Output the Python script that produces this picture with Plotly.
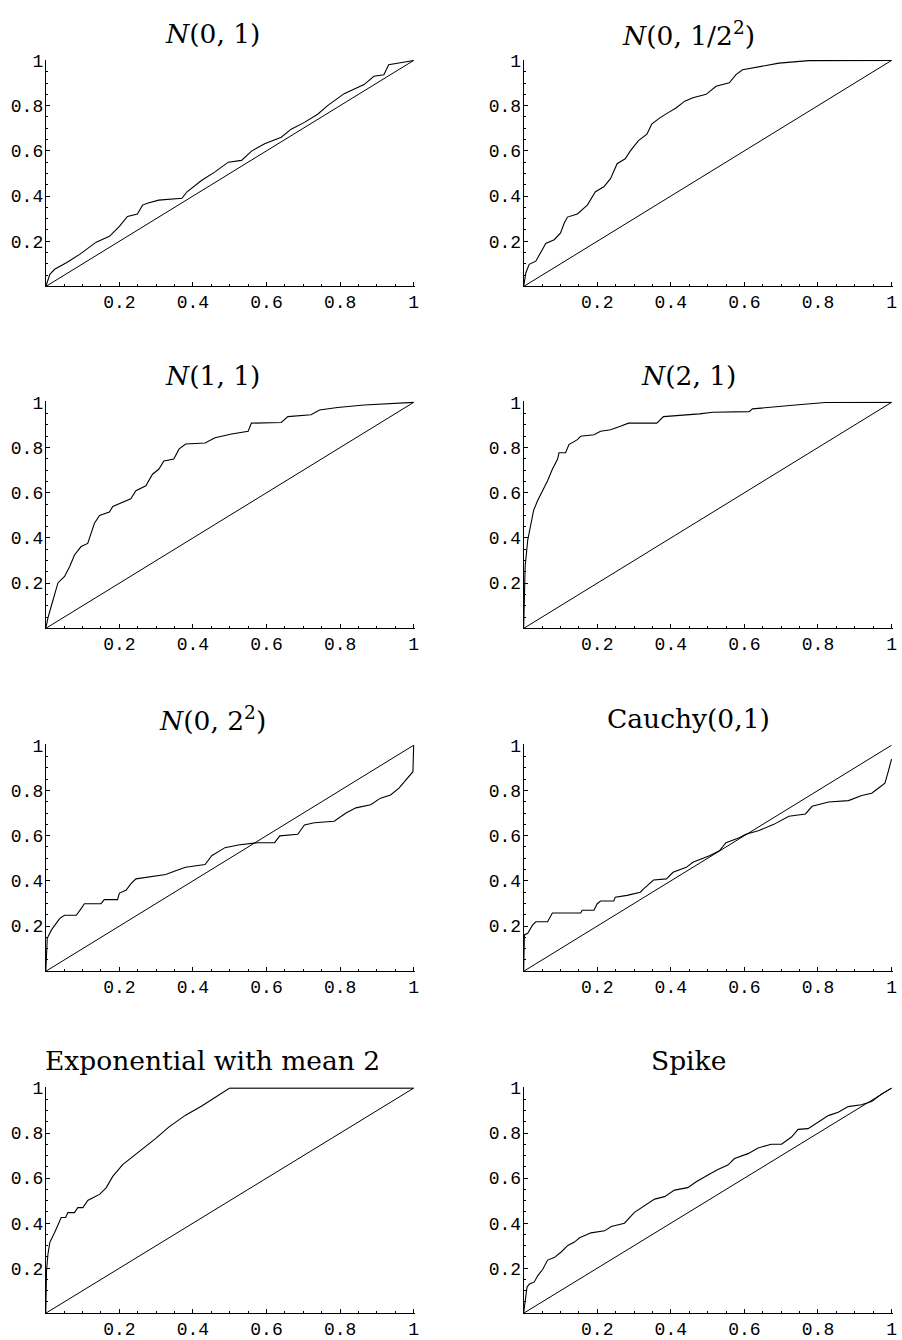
import plotly.graph_objects as go

# ---------------- data ----------------
titles = [
    "<i>N</i>(0, 1)",
    "<i>N</i>(0, 1/2<sup>2</sup>)",
    "<i>N</i>(1, 1)",
    "<i>N</i>(2, 1)",
    "<i>N</i>(0, 2<sup>2</sup>)",
    "Cauchy(0,1)",
    "Exponential with mean 2",
    "Spike",
]

tick_vals = [0.2, 0.4, 0.6, 0.8, 1.0]
tick_text = ["0.2", "0.4", "0.6", "0.8", "1"]

diag_x = [0, 1]
diag_y = [0, 1]

n01_x = [0, 0.011, 0.024, 0.056, 0.092, 0.137, 0.173, 0.2, 0.222, 0.249, 0.263, 0.276,
         0.307, 0.37, 0.384, 0.424, 0.46, 0.496, 0.532, 0.56, 0.595, 0.64, 0.667,
         0.703, 0.739, 0.766, 0.811, 0.847, 0.865, 0.892, 0.919, 0.932, 0.955, 0.982, 1]
n01_y = [0, 0.054, 0.076, 0.105, 0.142, 0.196, 0.222, 0.266, 0.31, 0.321, 0.36, 0.368,
         0.382, 0.39, 0.419, 0.47, 0.507, 0.55, 0.558, 0.6, 0.631, 0.66, 0.696,
         0.726, 0.762, 0.8, 0.853, 0.879, 0.893, 0.93, 0.937, 0.981, 0.988, 0.996, 1]

n0q_x = [0, 0.006, 0.015, 0.033, 0.051, 0.06, 0.083, 0.1, 0.11, 0.119, 0.146, 0.173,
         0.195, 0.218, 0.236, 0.254, 0.276, 0.29, 0.312, 0.335, 0.348, 0.371, 0.393,
         0.415, 0.438, 0.46, 0.496, 0.523, 0.559, 0.577, 0.595, 0.622, 0.658, 0.694,
         0.775, 1]
n0q_y = [0, 0.061, 0.098, 0.112, 0.164, 0.19, 0.207, 0.236, 0.28, 0.307, 0.321, 0.36,
         0.419, 0.441, 0.477, 0.543, 0.565, 0.6, 0.645, 0.674, 0.718, 0.747, 0.769,
         0.791, 0.82, 0.835, 0.85, 0.886, 0.901, 0.937, 0.959, 0.966, 0.978, 0.988,
         0.999, 1]

n11_x = [0, 0.006, 0.015, 0.033, 0.051, 0.065, 0.078, 0.096, 0.114, 0.132, 0.146,
         0.173, 0.182, 0.209, 0.231, 0.245, 0.272, 0.29, 0.307, 0.321, 0.348, 0.362,
         0.38, 0.433, 0.46, 0.505, 0.55, 0.559, 0.64, 0.658, 0.721, 0.744, 0.793,
         0.865, 0.955, 0.964, 1]
n11_y = [0, 0.048, 0.099, 0.201, 0.23, 0.274, 0.325, 0.362, 0.376, 0.464, 0.5,
         0.515, 0.539, 0.558, 0.573, 0.609, 0.631, 0.682, 0.704, 0.741, 0.749, 0.793,
         0.816, 0.82, 0.843, 0.86, 0.872, 0.908, 0.911, 0.937, 0.945, 0.966, 0.977,
         0.988, 0.996, 1.0, 1]

n21_x = [0, 0.004, 0.011, 0.02, 0.027, 0.038, 0.051, 0.065, 0.078, 0.092, 0.096,
         0.114, 0.123, 0.146, 0.155, 0.191, 0.209, 0.236, 0.263, 0.285, 0.362, 0.38,
         0.478, 0.514, 0.613, 0.622, 0.739, 0.82, 1]
n21_y = [0, 0.274, 0.39, 0.464, 0.522, 0.566, 0.609, 0.653, 0.704, 0.748, 0.777,
         0.777, 0.813, 0.835, 0.85, 0.857, 0.872, 0.879, 0.894, 0.908, 0.908, 0.937,
         0.949, 0.956, 0.959, 0.971, 0.988, 0.999, 1]

n04_x = [0, 0.004, 0.015, 0.029, 0.038, 0.051, 0.083, 0.096, 0.105, 0.15, 0.159,
         0.195, 0.2, 0.218, 0.231, 0.245, 0.281, 0.326, 0.353, 0.38, 0.433, 0.451,
         0.487, 0.523, 0.577, 0.622, 0.636, 0.685, 0.703, 0.73, 0.784, 0.816, 0.843,
         0.883, 0.91, 0.937, 0.96, 0.978, 0.991, 0.998, 1]
n04_y = [0, 0.146, 0.182, 0.212, 0.234, 0.248, 0.248, 0.277, 0.299, 0.299, 0.317,
         0.317, 0.346, 0.358, 0.387, 0.409, 0.416, 0.428, 0.445, 0.46, 0.472, 0.511,
         0.547, 0.559, 0.569, 0.569, 0.599, 0.606, 0.647, 0.657, 0.664, 0.7, 0.723,
         0.737, 0.766, 0.78, 0.81, 0.847, 0.869, 0.883, 1]

cauchy_x = [0, 0.002, 0.011, 0.024, 0.033, 0.065, 0.078, 0.155, 0.159, 0.191, 0.2,
            0.209, 0.245, 0.249, 0.281, 0.317, 0.326, 0.353, 0.388, 0.406, 0.442,
            0.46, 0.505, 0.532, 0.55, 0.586, 0.604, 0.64, 0.68, 0.721, 0.766, 0.784,
            0.829, 0.883, 0.919, 0.946, 0.964, 0.982, 0.991, 1]
cauchy_y = [0, 0.161, 0.168, 0.204, 0.219, 0.219, 0.258, 0.258, 0.27, 0.27, 0.299,
            0.311, 0.311, 0.328, 0.336, 0.35, 0.365, 0.404, 0.409, 0.438, 0.46,
            0.482, 0.511, 0.533, 0.569, 0.591, 0.606, 0.623, 0.65, 0.686, 0.696, 0.73,
            0.749, 0.755, 0.778, 0.788, 0.81, 0.832, 0.883, 0.939]

expo_x = [0, 0.002, 0.006, 0.011, 0.024, 0.042, 0.054, 0.06, 0.078, 0.087, 0.101,
          0.114, 0.128, 0.146, 0.164, 0.182, 0.209, 0.254, 0.299, 0.335, 0.38, 0.424,
          0.46, 0.5, 1]
expo_y = [0, 0.191, 0.264, 0.315, 0.359, 0.425, 0.425, 0.447, 0.447, 0.469, 0.469,
          0.501, 0.513, 0.528, 0.557, 0.608, 0.66, 0.718, 0.777, 0.828, 0.88, 0.921,
          0.96, 1.0, 1]

spike_x = [0, 0.009, 0.015, 0.029, 0.038, 0.052, 0.065, 0.083, 0.102, 0.12, 0.138,
           0.152, 0.183, 0.22, 0.238, 0.274, 0.301, 0.328, 0.356, 0.383, 0.41, 0.446,
           0.469, 0.501, 0.528, 0.555, 0.573, 0.61, 0.637, 0.673, 0.701, 0.728, 0.746,
           0.773, 0.8, 0.828, 0.855, 0.882, 0.918, 0.946, 0.973, 1]
spike_y = [0, 0.115, 0.129, 0.139, 0.166, 0.195, 0.236, 0.247, 0.272, 0.301, 0.316,
           0.335, 0.357, 0.366, 0.385, 0.4, 0.448, 0.477, 0.507, 0.518, 0.547, 0.558,
           0.584, 0.614, 0.639, 0.658, 0.687, 0.709, 0.734, 0.751, 0.751, 0.783, 0.817,
           0.82, 0.849, 0.878, 0.893, 0.918, 0.926, 0.941, 0.974, 1]

curves = [
    (n01_x, n01_y), (n0q_x, n0q_y),
    (n11_x, n11_y), (n21_x, n21_y),
    (n04_x, n04_y), (cauchy_x, cauchy_y),
    (expo_x, expo_y), (spike_x, spike_y),
]

# ---------------- layout ----------------
W, H = 902, 1340
col_px = [(46, 417), (526, 897)]
row_px = [(52, 281), (397, 626), (743, 972), (1089, 1317)]
title_cx = [213, 692]
title_cy = [26, 371, 717, 1062]

fig = go.Figure()
axis_font = dict(family="Liberation Mono, Courier New, monospace", size=18, color="black")

for i, (cx, cy) in enumerate(curves):
    r, c = divmod(i, 2)
    k = i + 1
    xa = "x" if k == 1 else f"x{k}"
    ya = "y" if k == 1 else f"y{k}"
    fig.add_trace(go.Scatter(x=diag_x, y=diag_y, mode="lines",
                             line=dict(color="black", width=1),
                             xaxis=xa, yaxis=ya, showlegend=False, hoverinfo="skip"))
    fig.add_trace(go.Scatter(x=cx, y=cy, mode="lines",
                             line=dict(color="black", width=1.1),
                             xaxis=xa, yaxis=ya, showlegend=False))
    x0, x1 = col_px[c]
    y0, y1 = row_px[r]
    common = dict(
        range=[0, 1.004], showgrid=False, zeroline=False,
        showline=True, linecolor="black", linewidth=1,
        ticks="inside", ticklen=4, tickwidth=1, tickcolor="black",
        tickvals=tick_vals, ticktext=tick_text, tickfont=axis_font,
        minor=dict(dtick=0.05, tick0=0, ticks="inside", ticklen=2.5,
                   tickcolor="black", tickwidth=1, showgrid=False),
        fixedrange=True,
    )
    fig.layout[f"xaxis{k if k > 1 else ''}"] = dict(
        domain=[x0 / W, x1 / W], anchor=ya, ticklabelstandoff=-1, **common)
    fig.layout[f"yaxis{k if k > 1 else ''}"] = dict(
        domain=[1 - y1 / H, 1 - y0 / H], anchor=xa, ticklabelstandoff=-2, **common)
    fig.add_annotation(
        text=titles[i], x=title_cx[c] / W, y=1 - title_cy[r] / H,
        xref="paper", yref="paper", xanchor="center", yanchor="middle",
        showarrow=False,
        font=dict(family="DejaVu Serif, Liberation Serif, serif", size=26.5, color="black"),
    )

fig.update_layout(
    width=W, height=H,
    margin=dict(l=0, r=0, t=0, b=0),
    paper_bgcolor="white", plot_bgcolor="white",
    showlegend=False,
)

fig.write_html(
    "out.html",
    config={"displayModeBar": False, "staticPlot": True},
    post_script=(
        "document.documentElement.style.margin='0px';"
        "document.body.style.margin='0px';document.body.style.padding='0px';"
        "document.documentElement.style.overflow='hidden';"
        "document.body.style.overflow='hidden';"
        "var gd=document.getElementsByClassName('plotly-graph-div')[0];"
        "gd.style.position='fixed';gd.style.top='0px';gd.style.left='0px';"
    ),
)
